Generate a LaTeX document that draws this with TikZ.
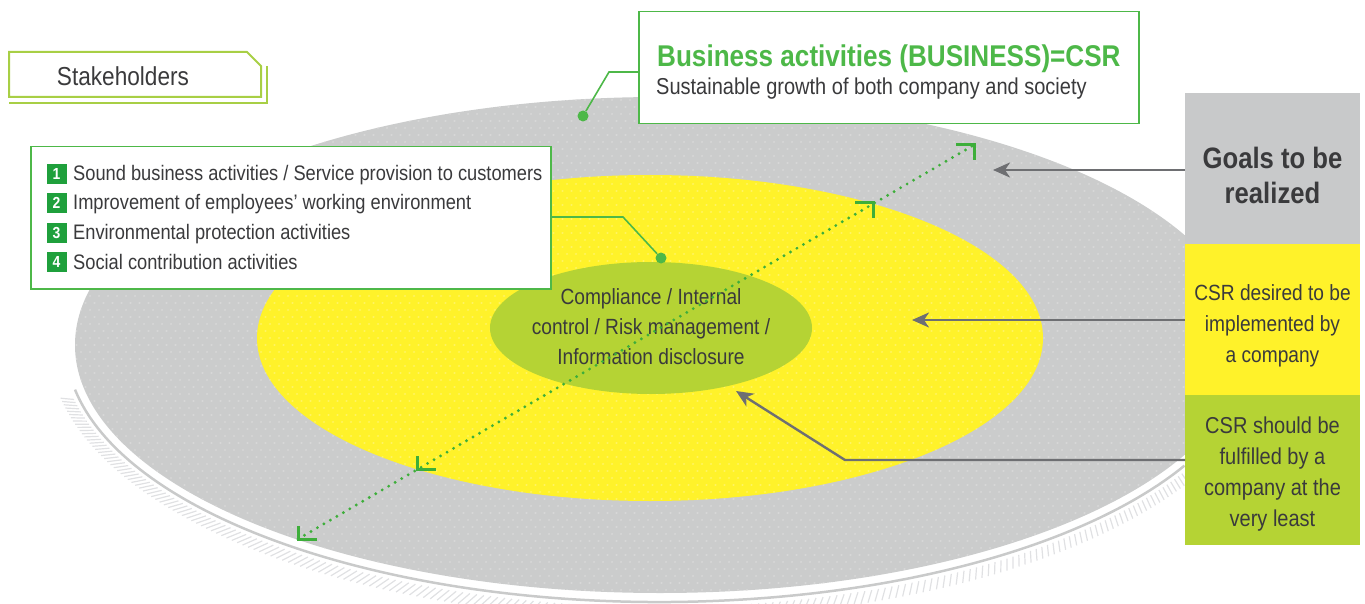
\documentclass[tikz,border=0pt]{standalone}
\usepackage{fontspec}
\setmainfont{Liberation Sans}[FakeStretch=0.87]
\usetikzlibrary{arrows.meta,patterns.meta}

\definecolor{ringgray}{HTML}{CBCCCC}
\definecolor{dotgray}{HTML}{DADADA}
\definecolor{ringyellow}{HTML}{FFF22A}
\definecolor{dotyellow}{HTML}{FFF56E}
\definecolor{coregreen}{HTML}{B5D334}
\definecolor{boxgreen}{HTML}{4DB848}
\definecolor{lightgreen}{HTML}{A8CF45}
\definecolor{numgreen}{HTML}{1FA03C}
\definecolor{dotgreen}{HTML}{3DAE3A}
\definecolor{txtgray}{HTML}{3A3A3C}
\definecolor{arrgray}{HTML}{6E6F72}
\definecolor{rimgray}{HTML}{C9CACA}
\definecolor{tickgray}{HTML}{E0E1E3}
\definecolor{goalgray}{HTML}{C8C9CA}

\newcommand\setfs[2]{\fontsize{#1}{#2}\selectfont}

\tikzdeclarepattern{
  name=softdots,
  type=uncolored,
  bottom left={(-2pt,-1pt)},
  top right={(7pt,8pt)},
  tile size={(9pt,14pt)},
  code={\fill (0pt,0pt) ellipse [x radius=1.3pt, y radius=0.8pt];
        \fill (4.5pt,7pt) ellipse [x radius=1.3pt, y radius=0.8pt];}
}

\begin{document}
\begin{tikzpicture}[x=1pt,y=1pt,
  callout/.style={draw=boxgreen, line width=1.6pt},
  calldot/.style={circle, fill=boxgreen, inner sep=0pt, minimum size=11pt},
  garrow/.style={draw=arrgray, line width=2.4pt, -{Stealth[length=17pt,width=15pt,inset=5pt]}},
  dotline/.style={draw=dotgreen, line width=3.2pt, line cap=round, dash pattern=on 0pt off 7.5pt},
  cornertip/.style={draw=dotgreen, line width=3pt},
  numsq/.style={fill=numgreen, text=white, inner sep=0pt, minimum size=20pt, font=\setfs{16}{16}\bfseries},
  itemtxt/.style={text=txtgray, inner sep=0pt, font=\setfs{21}{24}},
  sidebox/.style={inner sep=0pt, minimum width=175pt, minimum height=151pt, anchor=north west},
  sidetxt/.style={text=txtgray, align=center, font=\setfs{22}{31}},
]
\useasboundingbox (0,0) rectangle (1365,-604);

% hatch ticks below the rim
\foreach \t in {192,192.7,...,331}
  \draw[tickgray, line width=1.2pt]
    ({660+599*cos(\t)},{-345+262*sin(\t)}) -- ({660+611*cos(\t-0.8)},{-345+274*sin(\t-0.8)});
% rim
\draw[rimgray, line width=2.5pt] ({660+594*cos(190)},{-345+257*sin(190)})
  arc[start angle=190, end angle=332, x radius=594, y radius=257];

% outer ring
\fill[ringgray] (660,-345) ellipse [x radius=585, y radius=248];
\fill[pattern=softdots, pattern color=dotgray] (660,-345) ellipse [x radius=585, y radius=248];
% yellow ring
\fill[ringyellow] (650,-338) ellipse [x radius=393, y radius=163];
\fill[pattern=softdots, pattern color=dotyellow] (650,-338) ellipse [x radius=393, y radius=163];
% core
\fill[coregreen] (651,-328) ellipse [x radius=161, y radius=66];
\node[text=txtgray, align=center, font=\setfs{22}{30}] (core) at (651,-327)
  {Compliance / Internal\\control / Risk management /\\Information disclosure};

% dotted double arrow
\coordinate (L1) at (298,-539);
\coordinate (L2) at (417,-469);
\coordinate (U2) at (873,-203);
\coordinate (U1) at (974,-145);
\draw[dotline] (L1) -- (U1);
\draw[cornertip] (L1) ++(0,13) -- (L1) -- ++(19,0);
\draw[cornertip] (L2) ++(0,13) -- (L2) -- ++(19,0);
\draw[cornertip] (U1) ++(-18,0) -- (U1) -- ++(0,-15);
\draw[cornertip] (U2) ++(-18,0) -- (U2) -- ++(0,-15);

% Stakeholders box
\draw[lightgreen, line width=2pt] (9,-52) -- (247,-52) -- (261,-66) -- (261,-97) -- (9,-97) -- cycle;
\draw[lightgreen, line width=2pt] (267,-66) -- (267,-103) -- (9,-103);
\node[text=txtgray, font=\setfs{26}{26}] (stake) at (123,-76) {Stakeholders};

% top box
\node[draw=boxgreen, fill=white, line width=1.5pt, minimum width=500pt, minimum height=112pt,
  inner sep=0pt, anchor=north west] (topbox) at (638,-11) {};
\node[anchor=base west, inner sep=0pt, text=boxgreen, font=\setfs{30}{30}\bfseries] (title) at (657,-67)
  {Business activities (BUSINESS)=CSR};
\node[anchor=base west, inner sep=0pt, text=txtgray, font=\setfs{23}{23}] (subtitle) at (656,-95)
  {Sustainable growth of both company and society};
\node[calldot] (dot1) at (583,-116) {};
\coordinate (c1) at (609,-72);
\draw[callout] (dot1) -- (c1) -- (c1 -| topbox.west);

% list box
\node[draw=boxgreen, fill=white, line width=1.5pt, minimum width=520pt, minimum height=142pt,
  inner sep=0pt, anchor=north west] (listbox) at (30,-146) {};
\node[numsq] (n1) at (56.5,-174) {1};
\node[numsq] (n2) at (56.5,-203) {2};
\node[numsq] (n3) at (56.5,-233) {3};
\node[numsq] (n4) at (56.5,-262) {4};
\node[itemtxt, anchor=base west] (t1) at (73,-181) {Sound business activities / Service provision to customers};
\node[itemtxt, anchor=base west] (t2) at (73,-210) {Improvement of employees’ working environment};
\node[itemtxt, anchor=base west] (t3) at (73,-240) {Environmental protection activities};
\node[itemtxt, anchor=base west] (t4) at (73,-269) {Social contribution activities};
\node[calldot] (dot2) at (661,-258) {};
\coordinate (c2) at (623,-217);
\draw[callout] (c2 -| listbox.east) -- (c2) -- (dot2);

% side boxes
\node[sidebox, fill=goalgray] (goals) at (1185,-93) {};
\node[sidebox, fill=ringyellow] (desired) at (1185,-244) {};
\node[sidebox, fill=coregreen, minimum height=150pt] (least) at (1185,-395) {};
\node[text=txtgray, align=center, font=\setfs{29.5}{35}\bfseries] (goalstxt) at (1272.5,-175) {Goals to be\\realized};
\node[sidetxt] (desiredtxt) at (1272.5,-325.5) {CSR desired to be\\implemented by\\a company};
\node[sidetxt, font=\setfs{23}{31}] (leasttxt) at (1272.5,-474) {CSR should be\\fulfilled by a\\company at the\\very least};

% grey arrows
\coordinate (a1) at (993,-170);
\coordinate (a2) at (912,-320);
\coordinate (b3) at (845,-460);
\coordinate (a3) at (736,-391);
\draw[garrow] (a1 -| goals.west) -- (a1);
\draw[garrow] (a2 -| desired.west) -- (a2);
\draw[garrow] (b3 -| least.west) -- (b3) -- (a3);
\end{tikzpicture}
\end{document}
